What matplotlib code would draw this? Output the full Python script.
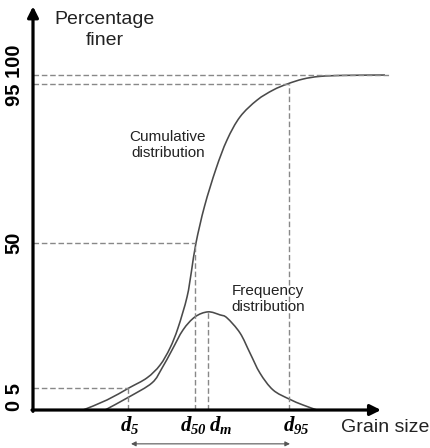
import numpy as np
import matplotlib.pyplot as plt
from matplotlib.path import Path
from matplotlib.patches import PathPatch

# grain size (arbitrary units) and percentage finer
cum_size = [5.0, 7.4, 9.6, 11.4, 12.7, 13.7, 14.5, 15.4, 15.85, 16.3, 17.15, 18.3,
            19.4, 20.7, 22.4, 24.0, 25.4, 27.0, 28.7, 31.2, 35.2]
cum_pct = [0, 3.0, 6.6, 9.6, 13.4, 18.5, 24.5, 33.7, 41.5, 49.9, 60.8, 72.0,
           80.6, 87.5, 92.5, 95.5, 97.3, 98.8, 99.6, 99.9, 100]

freq_size = [7.2, 9.6, 11.9, 12.9, 13.9, 15.0, 16.2, 17.5, 18.7, 19.4, 20.7,
             21.7, 22.7, 24.0, 25.6, 27.0, 28.4]
freq_val = [0, 3.9, 8.1, 12.5, 17.9, 23.9, 27.8, 29.3, 28.4, 27.5, 23.0,
            17.0, 11.0, 6.0, 3.3, 1.5, 0]

# characteristic sizes and the levels they sit on
d_names = ['5', '50', 'm', '95']
d_size = [9.5, 16.2, 17.5, 25.6]
d_top = [6.6, 50, 29.3, 97.3]
y_levels = [6.6, 50, 97.3, 100]
y_ends = [9.5, 16.2, 25.6, 35.7]
y_labels = ['0 5', '50', '95 100']
y_label_pos = [4.0, 49.9, 100]

plt.rcParams['font.family'] = ['Liberation Sans', 'DejaVu Sans']
plt.rcParams['mathtext.fontset'] = 'custom'
plt.rcParams['mathtext.bfit'] = 'Liberation Serif:italic:bold'
plt.rcParams['mathtext.it'] = 'Liberation Serif:italic:bold'


def smooth_path(xs, ys):
    # Catmull-Rom through the read points, drawn as cubic bezier segments
    p = np.column_stack([xs, ys]).astype(float)
    p = np.vstack([p[0], p, p[-1]])
    verts = [p[1]]
    codes = [Path.MOVETO]
    for i in range(1, len(p) - 2):
        c1 = p[i] + (p[i + 1] - p[i - 1]) / 6
        c2 = p[i + 1] - (p[i + 2] - p[i]) / 6
        verts += [c1, c2, p[i + 1]]
        codes += [Path.CURVE4] * 3
    return Path(verts, codes)


fig = plt.figure(figsize=(4.31, 4.48), dpi=100)
ax = fig.add_axes([0, 0, 1, 1])
ax.set_xlim(-3.3, 39.8)
ax.set_ylim(-11.34, 122.4)
ax.axis('off')

dash = dict(color='#888888', lw=1.0, dashes=(4, 2))
for lev, end in zip(y_levels, y_ends):
    ax.plot([0, end], [lev, lev], **dash)
for x, top in zip(d_size, d_top):
    ax.plot([x, x], [0, top], **dash)

for xs, ys in [(cum_size, cum_pct), (freq_size, freq_val)]:
    ax.add_patch(PathPatch(smooth_path(xs, ys), fill=False, edgecolor='#4a4a4a', lw=1.15))

# axes with arrow heads
ax.annotate('', xy=(34.8, 0), xytext=(-0.1, 0),
            arrowprops=dict(arrowstyle='-|>', lw=2.3, color='black', mutation_scale=16,
                            shrinkA=0, shrinkB=0))
ax.annotate('', xy=(0, 120.5), xytext=(0, -0.4),
            arrowprops=dict(arrowstyle='-|>', lw=2.3, color='black', mutation_scale=16,
                            shrinkA=0, shrinkB=0))

for lab, pos in zip(y_labels, y_label_pos):
    ax.text(-1.9, pos, lab, rotation=90, ha='center', va='center', fontsize=14.5,
            fontweight='bold', family=['Liberation Sans Narrow', 'Liberation Sans'])

ax.text(7.2, 113.5, 'Percentage\nfiner', ha='center', va='center', fontsize=14,
        linespacing=1.3, color='#222222')
ax.text(35.2, -5.1, 'Grain size', ha='center', va='center', fontsize=14, color='#222222')
ax.text(13.5, 79.1, 'Cumulative\ndistribution', ha='center', va='center', fontsize=11,
        linespacing=1.25, color='#222222')
ax.text(23.5, 33.1, 'Frequency\ndistribution', ha='center', va='center', fontsize=11,
        linespacing=1.2, color='#222222')

label_left = [8.7, 14.7, 17.6, 25.0]
for name, x in zip(d_names, label_left):
    ax.text(x, -6.3, r'$\mathbfit{d}_{\mathbfit{%s}}$' % name, ha='left',
            va='baseline', fontsize=15)

ax.annotate('', xy=(25.7, -10.1), xytext=(9.8, -10.1),
            arrowprops=dict(arrowstyle='<|-|>', lw=0.8, color='#555555',
                            mutation_scale=7, shrinkA=0, shrinkB=0))

fig.savefig('out.png', dpi=100)
